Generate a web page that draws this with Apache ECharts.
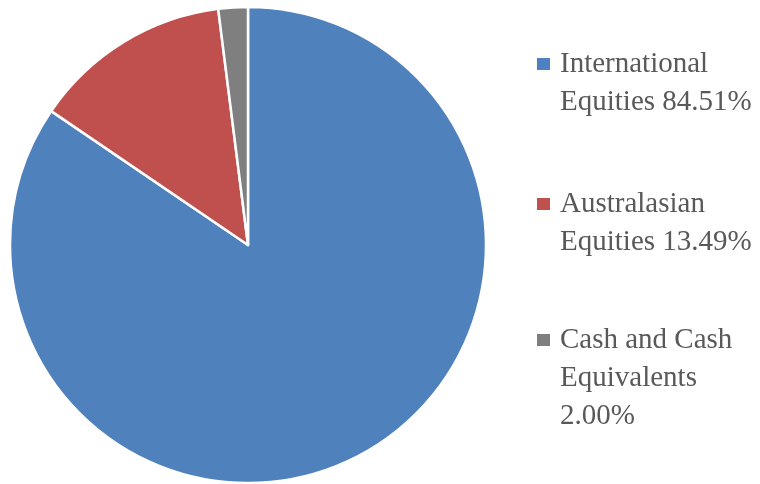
<!DOCTYPE html>
<html>
  <head>
    <title></title>
    <meta charset="UTF-8" />
    <script src="https://cdn.jsdelivr.net/npm/echarts@6/dist/echarts.min.js"></script>
    <style>
      body { margin: 0; background: #fff; }
    </style>
  </head>
  <body>
    <div id="main"></div>
    <script>
      const width = 760;
      const height = 484;
      const main = document.getElementById('main');
      main.style.width = `${width}px`;
      main.style.height = `${height}px`;

      const names = ['International Equities', 'Australasian Equities', 'Cash and Cash Equivalents'];
      const values = [84.51, 13.49, 2.00];
      const legendLines = [
        ['International', 'Equities'],
        ['Australasian', 'Equities'],
        ['Cash and Cash', 'Equivalents', '']
      ];
      const colors = ['#4F81BD', '#C0504D', '#7F7F7F'];
      const legendTops = [7, 147, 245];

      const lineH = 38;
      const font = "'Liberation Serif', 'DejaVu Serif', serif";

      // one legend per item; blank lines on top keep the marker level with the first line
      const legends = names.map((name, i) => {
        const lines = legendLines[i].slice();
        const pct = values[i].toFixed(2) + '%';
        if (lines[lines.length - 1] === '') lines[lines.length - 1] = pct;
        else lines[lines.length - 1] += ' ' + pct;
        const padded = new Array(lines.length - 1).fill('').concat(lines)
          .map(l => '{s|}{t|' + l + '}');
        return {
          data: [name],
          orient: 'vertical',
          left: 535,
          top: legendTops[i],
          padding: 0,
          itemWidth: 15,
          itemHeight: 14,
          icon: 'rect',
          selectedMode: false,
          formatter: () => padded.join('\n'),
          textStyle: {
            fontFamily: font,
            fontSize: 29,
            color: '#595959',
            lineHeight: lineH,
            rich: {
              s: { width: 4, height: lineH, lineHeight: lineH },
              t: { fontFamily: font, fontSize: 29, color: '#595959', lineHeight: lineH }
            }
          }
        };
      });

      const myChart = echarts.init(main, null, { renderer: 'canvas' });
      const option = {
        animation: false,
        color: colors,
        legend: legends,
        series: [
          {
            type: 'pie',
            center: [248, 245],
            radius: 238,
            startAngle: 90,
            clockwise: true,
            silent: true,
            label: { show: false },
            labelLine: { show: false },
            itemStyle: { borderColor: '#fff', borderWidth: 2.5 },
            data: names.map((n, i) => ({ name: n, value: values[i] }))
          }
        ]
      };
      myChart.setOption(option);
    </script>
  </body>
</html>
